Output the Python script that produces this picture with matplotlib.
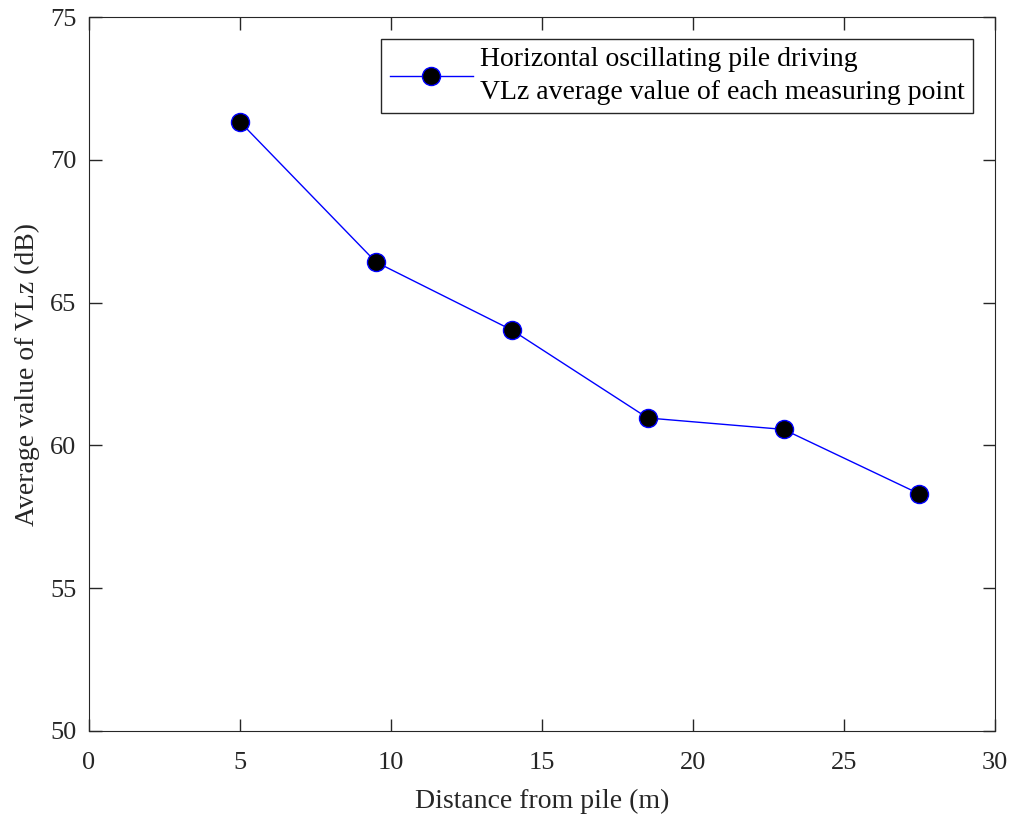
import numpy as np
import matplotlib.pyplot as plt

# distância da estaca (m) e média de VLz (dB)
distancia = [5, 9.5, 14, 18.5, 23, 27.5]
vlz_media = [71.33, 66.42, 64.04, 60.96, 60.56, 58.30]

rotulo = "Horizontal oscillating pile driving\nVLz average value of each measuring point"

plt.rcParams['font.family'] = ['Liberation Serif', 'DejaVu Serif']
plt.rcParams['font.size'] = 19

fig = plt.figure(figsize=(10.13, 8.15), dpi=100)
ax = fig.add_axes([0.0879, 0.1031, 0.8943, 0.876])

ax.plot(distancia, vlz_media, color='blue', linewidth=1,
        marker='o', markersize=13, markerfacecolor='black',
        markeredgecolor='blue', markeredgewidth=1, label=rotulo)

ax.set_xlim(0, 30)
ax.set_ylim(50, 75)
ax.set_xticks(np.arange(0, 31, 5))
ax.set_yticks(np.arange(50, 76, 5))
ax.tick_params(direction='in', top=True, right=True, length=9, width=1,
               colors='#262626', labelsize=19)
ax.tick_params(axis='x', pad=15)
ax.tick_params(axis='y', pad=9)
for s in ax.spines.values():
    s.set_color('#262626')

ax.set_xlabel("Distance from pile (m)", color='#262626', fontsize=20, labelpad=11)
ax.set_ylabel("Average value of VLz (dB)", color='#262626', fontsize=20, labelpad=7)

leg = ax.legend(loc='upper right', bbox_to_anchor=(0.9757, 0.969), borderaxespad=0,
                fancybox=False, framealpha=1, edgecolor='#262626',
                handlelength=3.0, handletextpad=0.25, borderpad=0.3, fontsize=20)
leg.get_frame().set_linewidth(1)
leg.get_texts()[0].set_linespacing(1.4)

plt.savefig('out.png', dpi=100)
